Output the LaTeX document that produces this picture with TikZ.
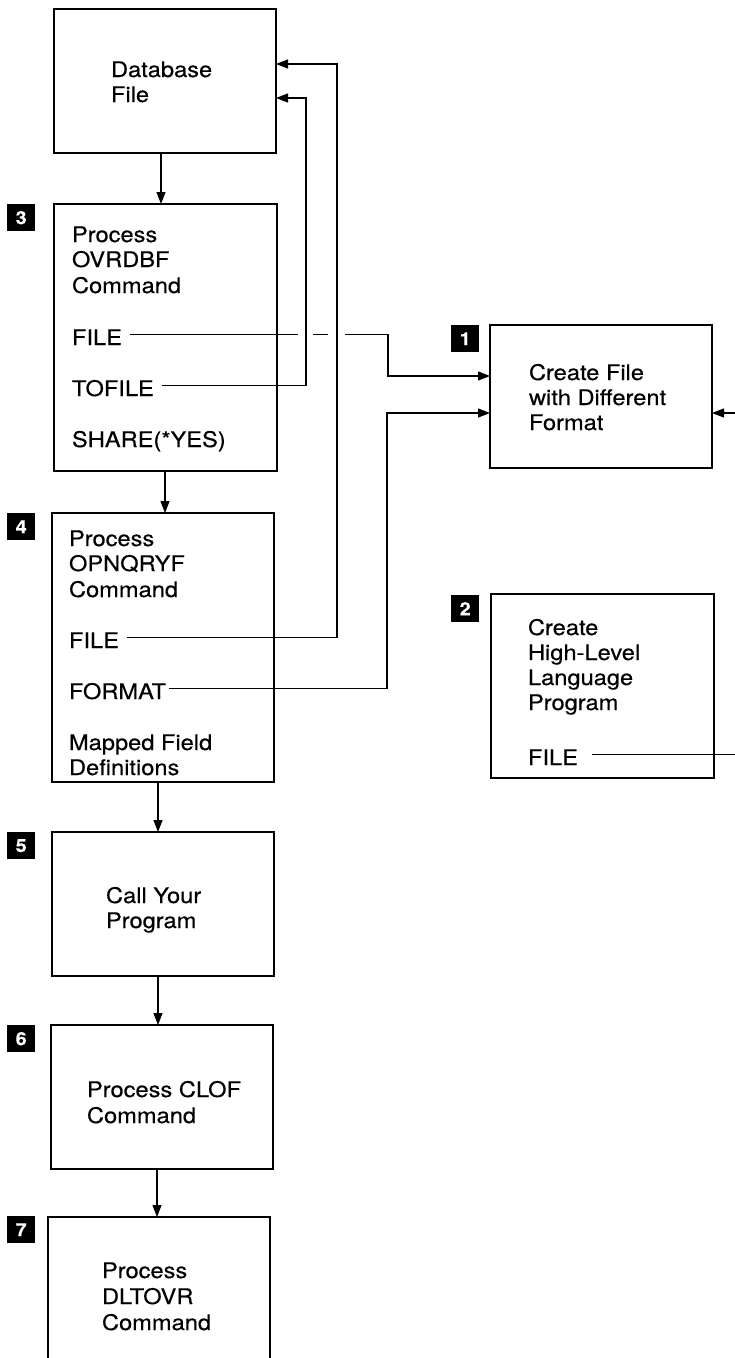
\documentclass[tikz,border=0pt]{standalone}
\usepackage{fontspec}
\setmainfont{TeX Gyre Heros}[FakeStretch=1.1,FakeBold=0.35]
\usetikzlibrary{arrows.meta}
\begin{document}
\begin{tikzpicture}[x=1pt,y=-1pt,
  box/.style={draw, line width=1.7pt, inner sep=0pt, outer sep=0pt, anchor=north west},
  txt/.style={anchor=base west, inner sep=0pt, outer sep=0pt, font=\fontsize{21.5}{25.5}\selectfont},
  badge/.style={fill=black, text=white, anchor=north west, minimum width=28pt, minimum height=27pt, inner sep=0pt, font=\fontsize{18}{18}\bfseries\selectfont},
  conn/.style={line width=1.1pt},
  arr/.style={conn, -{Triangle[length=12pt,width=9pt]}}]
\useasboundingbox (0,0) rectangle (735,1358);

% boxes
\node[box, minimum width=222pt, minimum height=144pt] (db) at (54,9) {};
\node[box, minimum width=223pt, minimum height=267pt] (b3) at (54,204) {};
\node[box, minimum width=222pt, minimum height=269pt] (b4) at (52,513) {};
\node[box, minimum width=222pt, minimum height=144pt] (b5) at (52,832) {};
\node[box, minimum width=222pt, minimum height=144pt] (b6) at (51,1025) {};
\node[box, minimum width=222pt, minimum height=170pt] (b7) at (48,1217) {};
\node[box, minimum width=222pt, minimum height=143pt] (b1) at (490,325) {};
\node[box, minimum width=223pt, minimum height=184pt] (b2) at (491,594) {};

% badges
\node[badge] (n1) at (451,325) {1};
\node[badge] (n2) at (451,595) {2};
\node[badge] (n3) at (7,204) {3};
\node[badge] (n4) at (7,513) {4};
\node[badge] (n5) at (7,832) {5};
\node[badge] (n6) at (7,1025) {6};
\node[badge] (n7) at (7,1216) {7};

% texts
\node[txt] (dbt1) at (111,77) {Database};
\node[txt] (dbt2) at (111,102) {File};

\node[txt] (t3a) at (72,242) {Process};
\node[txt] (t3b) at (72,267) {OVRDBF};
\node[txt] (t3c) at (72,293) {Command};
\node[txt] (t3file) at (72,345) {FILE};
\node[txt] (t3tofile) at (72,396) {TOFILE};
\node[txt] (t3share) at (72,447) {SHARE(*YES)};

\node[txt] (t4a) at (69,546) {Process};
\node[txt] (t4b) at (69,571) {OPNQRYF};
\node[txt] (t4c) at (69,597) {Command};
\node[txt] (t4file) at (69,648) {FILE};
\node[txt] (t4format) at (69,699) {FORMAT};
\node[txt] (t4d) at (69,750) {Mapped Field};
\node[txt] (t4e) at (69,775) {Definitions};

\node[txt] (t1a) at (529,380) {Create File};
\node[txt] (t1b) at (529,405) {with Different};
\node[txt] (t1c) at (529,430) {Format};

\node[txt] (t2a) at (528,635) {Create};
\node[txt] (t2b) at (528,660) {High-Level};
\node[txt] (t2c) at (528,685) {Language};
\node[txt] (t2d) at (528,710) {Program};
\node[txt] (t2file) at (528,765) {FILE};

\node[txt] (t5a) at (106,903) {Call Your};
\node[txt] (t5b) at (106,928) {Program};

\node[txt] (t6a) at (87,1097) {Process CLOF};
\node[txt] (t6b) at (87,1123) {Command};

\node[txt] (t7a) at (102,1278) {Process};
\node[txt] (t7b) at (102,1304) {DLTOVR};
\node[txt] (t7c) at (102,1330) {Command};

% vertical flow arrows
\coordinate (c1) at (161,0);
\coordinate (c2) at (165,0);
\coordinate (c3) at (158,0);
\coordinate (c4) at (158,0);
\coordinate (c5) at (157,0);
\draw[arr] (db.south -| c1) -- (b3.north -| c1);
\draw[arr] (b3.south -| c2) -- (b4.north -| c2);
\draw[arr] (b4.south -| c3) -- (b5.north -| c3);
\draw[arr] (b5.south -| c4) -- (b6.north -| c4);
\draw[arr] (b6.south -| c5) -- (b7.north -| c5);

% connector start points
\path ([xshift=8pt,yshift=3pt]t3file.east) coordinate (s3f);
\path ([xshift=8pt,yshift=3pt]t3tofile.east) coordinate (s3t);
\path ([xshift=8pt,yshift=3pt]t4file.east) coordinate (s4f);
\path ([xshift=3pt,yshift=3pt]t4format.east) coordinate (s4m);
\path ([xshift=14pt,yshift=3pt]t2file.east) coordinate (s2f);

% junctions
\coordinate (j1) at (306,98);
\coordinate (j2) at (337,64);
\coordinate (j3) at (387,413);
\coordinate (j4) at (388,376);
\coordinate (g1) at (298,0);
\coordinate (g2) at (313,0);
\coordinate (g3) at (328,0);
\coordinate (g4) at (345,0);
\coordinate (e1) at (735,0);
\coordinate (e2) at (735,413);

% TOFILE -> Database File
\draw[arr] (s3t) -| (j1) -- (j1 -| db.east);
% OPNQRYF FILE -> Database File
\draw[arr] (s4f) -| (j2) -- (j2 -| db.east);
% FORMAT -> Create File
\draw[arr] (s4m) -| (j3) -- (j3 -| b1.west);
% OVRDBF FILE -> Create File (broken where it crosses)
\draw[conn] (s3f) -- (s3f -| g1);
\draw[conn] (s3f -| g2) -- (s3f -| g3);
\draw[arr] (s3f -| g4) -| (j4) -- (j4 -| b1.west);
% HLL program FILE -> Create File (runs off the right edge)
\draw[conn] (s2f) -- (s2f -| e1);
\draw[arr] (e2) -- (e2 -| b1.east);
\end{tikzpicture}
\end{document}
